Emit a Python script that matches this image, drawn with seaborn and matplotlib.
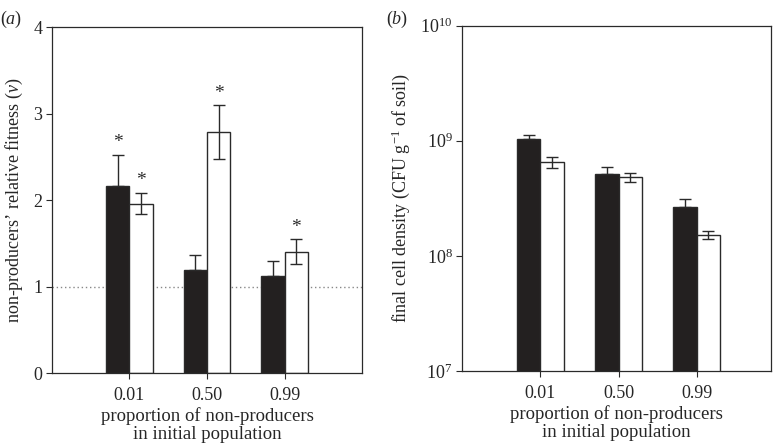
import numpy as np
import pandas as pd
import matplotlib
matplotlib.use("Agg")
import matplotlib.pyplot as plt
import matplotlib.ticker as mticker
import seaborn as sns

# ---- data ----
categories = ["0.01", "0.50", "0.99"]
groups = ["A", "B"]
fitness_black = [2.165, 1.19, 1.12]
fitness_black_err = [0.36, 0.17, 0.17]
fitness_white = [1.96, 2.79, 1.40]
fitness_white_err = [0.125, 0.31, 0.145]
fitness_star_black = [True, False, False]
fitness_star_white = [True, True, True]

density_black = [1.03e9, 5.1e8, 2.67e8]
density_black_up = [1.12e9, 5.9e8, 3.13e8]
density_white = [6.5e8, 4.8e8, 1.51e8]
density_white_lo = [5.8e8, 4.4e8, 1.40e8]
density_white_up = [7.3e8, 5.2e8, 1.64e8]

sns.set_theme(style="white")
plt.rcParams["font.family"] = ["Liberation Serif", "DejaVu Serif"]
plt.rcParams["mathtext.fontset"] = "custom"
plt.rcParams["mathtext.rm"] = "Liberation Serif"
plt.rcParams["mathtext.it"] = "Liberation Serif:italic"
plt.rcParams["mathtext.bf"] = "Liberation Serif:bold"

edge = "#2a2a2a"
fs = 13

fig = plt.figure(figsize=(7.76, 4.48), dpi=100)
axA = fig.add_axes([0.067, 0.1674, 0.3995, 0.772])
axB = fig.add_axes([0.5957, 0.1719, 0.3978, 0.7708])


def draw(ax, black, white):
    df = pd.DataFrame({
        "cat": categories * 2,
        "grp": ["A"] * 3 + ["B"] * 3,
        "val": list(black) + list(white),
    })
    sns.barplot(data=df, x="cat", y="val", hue="grp", order=categories,
                hue_order=groups, palette={"A": "#231f20", "B": "white"},
                edgecolor=edge, linewidth=1.0, width=0.6, errorbar=None,
                legend=False, ax=ax)
    pts = ax.patches
    xb = [p.get_x() + p.get_width() / 2 for p in pts[:3]]
    xw = [p.get_x() + p.get_width() / 2 for p in pts[3:6]]
    return xb, xw


# ---- panel a ----
xb, xw = draw(axA, fitness_black, fitness_white)
ekw = dict(fmt="none", ecolor=edge, elinewidth=1.0, capsize=4.5, capthick=1.0)
axA.errorbar(xb, fitness_black, yerr=[np.zeros(3), fitness_black_err], **ekw)
axA.errorbar(xw, fitness_white, yerr=fitness_white_err, **ekw)
for x, v, e, s in zip(xb, fitness_black, fitness_black_err, fitness_star_black):
    if s:
        axA.text(x, v + e + 0.04, "*", ha="center", va="bottom", fontsize=14, color=edge)
for x, v, e, s in zip(xw, fitness_white, fitness_white_err, fitness_star_white):
    if s:
        axA.text(x, v + e + 0.04, "*", ha="center", va="bottom", fontsize=14, color=edge)
axA.axhline(1, color="#888888", linestyle=(0, (1, 2)), linewidth=1.0, zorder=0)
axA.set_xlim(-1, 3)
axA.set_ylim(0, 4)
axA.set_yticks([0, 1, 2, 3, 4])
axA.set_ylabel(r"non-producers’ relative fitness ($\it{v}$)", fontsize=fs, labelpad=6)

# ---- panel b ----
xb, xw = draw(axB, density_black, density_white)
axB.set_yscale("log")
axB.errorbar(xb, density_black,
             yerr=[np.zeros(3), np.array(density_black_up) - np.array(density_black)], **ekw)
axB.errorbar(xw, density_white,
             yerr=[np.array(density_white) - np.array(density_white_lo),
                   np.array(density_white_up) - np.array(density_white)], **ekw)
axB.set_xlim(-1, 2.95)
axB.set_ylim(1e7, 1e10)
axB.yaxis.set_major_locator(mticker.LogLocator(base=10, numticks=10))
axB.yaxis.set_major_formatter(mticker.LogFormatterMathtext())
axB.yaxis.set_minor_locator(mticker.NullLocator())
axB.set_ylabel(r"final cell density (CFU g$^{-1}$ of soil)", fontsize=fs, labelpad=6)

for ax in (axA, axB):
    ax.set_xlabel("proportion of non-producers\nin initial population", fontsize=13.5,
                  linespacing=1.1, labelpad=2)
    ax.tick_params(axis="both", direction="out", length=4, width=0.8, color=edge,
                   labelsize=fs, left=True, bottom=True)
    ax.tick_params(axis="x", pad=6)
    ax.tick_params(axis="y", pad=3)
    for sp in ax.spines.values():
        sp.set_visible(True)
        sp.set_color(edge)
        sp.set_linewidth(0.9)

fig.text(0.0, 0.98, r"($\it{a}$)", fontsize=fs, va="top", ha="left")
fig.text(0.497, 0.98, r"($\it{b}$)", fontsize=fs, va="top", ha="left")

fig.savefig("out.png", dpi=100)
